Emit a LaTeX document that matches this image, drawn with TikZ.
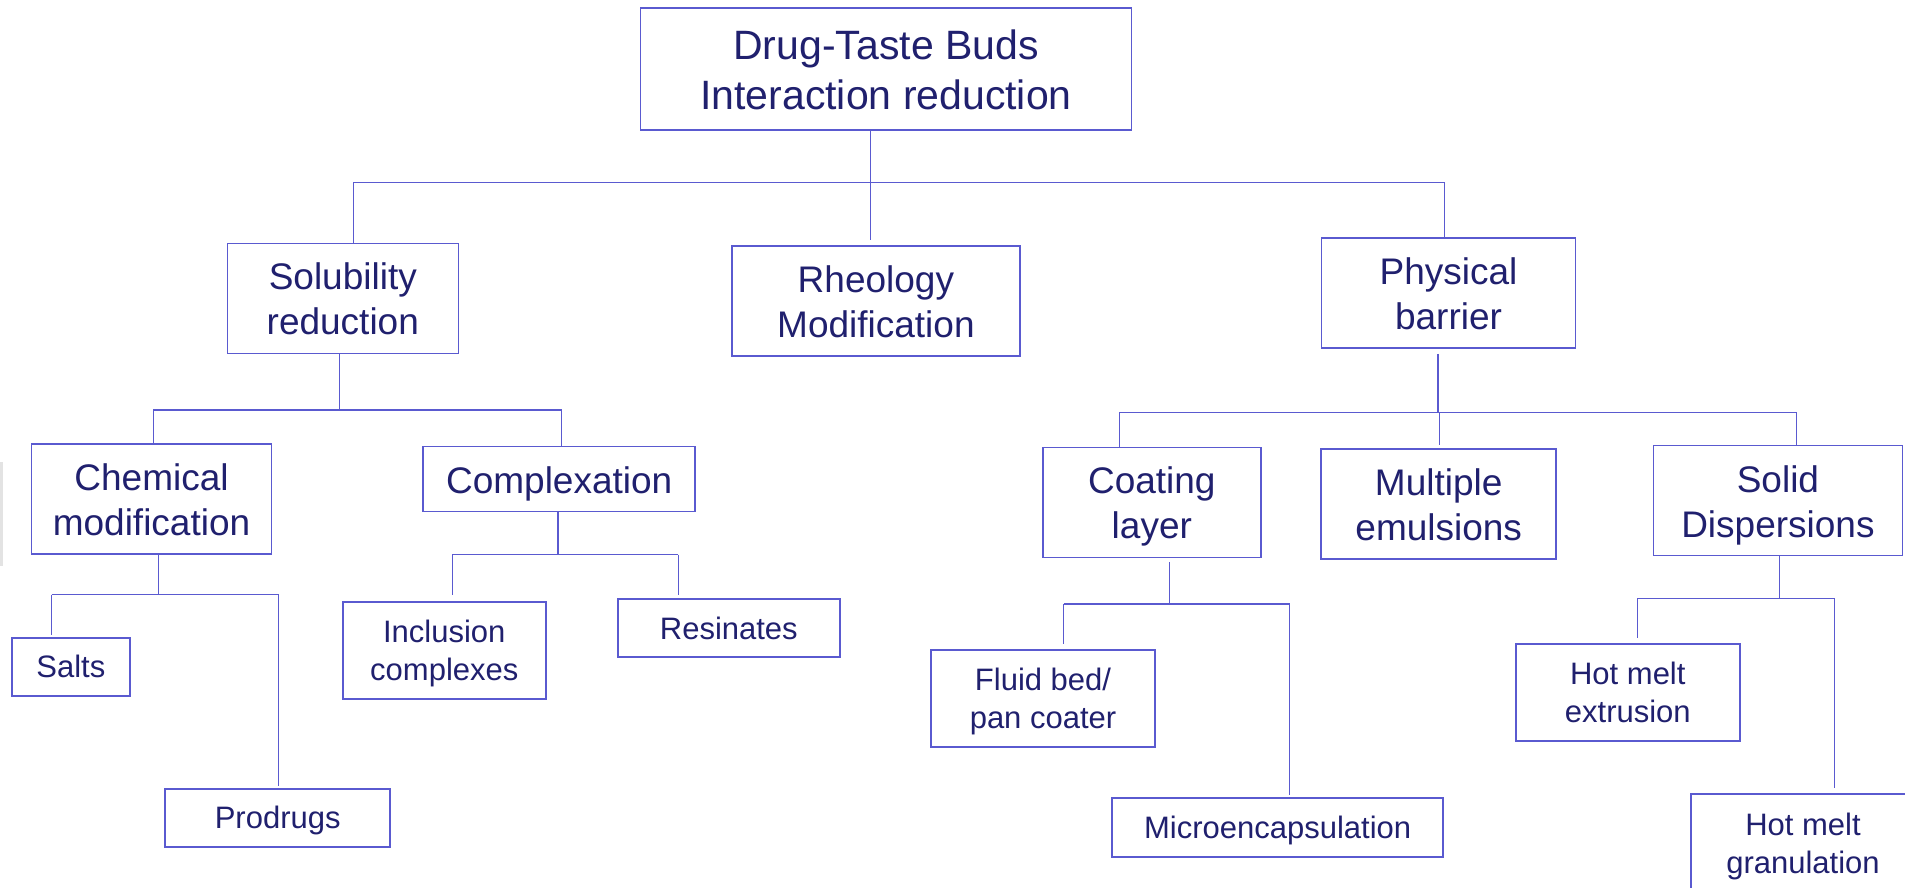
\documentclass[tikz,border=0pt]{standalone}
\usepackage{fontspec}
\setmainfont{Liberation Sans}
\definecolor{inkblue}{RGB}{32,32,110}
\definecolor{lineblue}{RGB}{90,90,208}
% line struts: fixed height and depth for every text line
\newcommand\strutB{\rule[-9pt]{0pt}{49pt}}
\newcommand\strutM{\rule[-8pt]{0pt}{44pt}}
\newcommand\strutS{\rule[-7pt]{0pt}{36pt}}
\begin{document}
\begin{tikzpicture}[x=1pt,y=-1pt,
  box/.style={draw=lineblue, line width=1.6pt, fill=white, text=inkblue,
    inner sep=0pt, align=center},
  big/.style={box, font=\fontsize{41}{50}\selectfont},
  mid/.style={box, font=\fontsize{37}{45}\selectfont},
  small/.style={box, font=\fontsize{31}{38}\selectfont},
  link/.style={draw=lineblue, line width=1.3pt}]
\useasboundingbox (0,0) rectangle (1905,888);
\begin{scope}
\clip (0,0) rectangle (1905,888);

% faint mark at the left edge
\fill[gray!22] (0,462) rectangle (3,566);

% boxes
\node[big, minimum width=491, minimum height=122] (root) at (886,69) {\strutB Drug-Taste Buds\\\strutB Interaction reduction};

\node[mid, minimum width=231, minimum height=110] (sol)  at (342.8,298.3) {\strutM Solubility\\\strutM reduction};
\node[mid, minimum width=288, minimum height=110] (rheo) at (875.9,301) {\strutM Rheology\\\strutM Modification};
\node[mid, minimum width=254, minimum height=110] (phys) at (1448.5,293) {\strutM Physical\\\strutM barrier};

\node[mid, minimum width=240, minimum height=110] (chem)  at (151.5,499) {\strutM Chemical\\\strutM modification};
\node[mid, minimum width=272, minimum height=65]  (comp)  at (559.2,479) {\strutM Complexation};
\node[mid, minimum width=218, minimum height=110] (coat)  at (1151.8,502.3) {\strutM Coating\\\strutM layer};
\node[mid, minimum width=235, minimum height=110] (mult)  at (1438.7,503.9) {\strutM Multiple\\\strutM emulsions};
\node[mid, minimum width=249, minimum height=110] (solid) at (1777.9,500.5) {\strutM Solid\\\strutM Dispersions};

\node[small, minimum width=118, minimum height=58] (salts) at (70.9,666.9) {\strutS Salts};
\node[small, minimum width=225, minimum height=58] (prod)  at (277.7,817.7) {\strutS Prodrugs};
\node[small, minimum width=203, minimum height=97] (incl)  at (444.3,650.5) {\strutS Inclusion\\\strutS complexes};
\node[small, minimum width=222, minimum height=58] (resin) at (728.8,628.2) {\strutS Resinates};
\node[small, minimum width=224, minimum height=97] (fluid) at (1043,698.7) {\strutS Fluid bed/\\\strutS pan coater};
\node[small, minimum width=331, minimum height=59] (micro) at (1277.7,827.3) {\strutS Microencapsulation};
\node[small, minimum width=224, minimum height=97] (hme)   at (1627.8,692.4) {\strutS Hot melt\\\strutS extrusion};
\node[small, minimum width=224, minimum height=98] (hmg)   at (1803,843) {\strutS Hot melt\\\strutS granulation};

% first level
\coordinate (t0) at (870.4,182.3);
\coordinate (t1) at (353.7,182.3);
\coordinate (t3) at (1444.2,182.3);
\draw[link] (root.south -| t0) -- (t0);
\draw[link] (t1) -- (t3);
\draw[link] (t1) -- (t1 |- sol.north);
\draw[link, shorten >=5] (t0) -- (t0 |- rheo.north);
\draw[link] (t3) -- (t3 |- phys.north);

% solubility reduction
\coordinate (s0) at (339.2,410);
\coordinate (s1) at (153.2,410);
\coordinate (s2) at (561.6,410);
\draw[link] (sol.south -| s0) -- (s0);
\draw[link] (s1) -- (s2);
\draw[link] (s1) -- (s1 |- chem.north);
\draw[link] (s2) -- (s2 |- comp.north);

% physical barrier
\coordinate (p0) at (1438.1,412.3);
\coordinate (p1) at (1119.6,412.3);
\coordinate (p2) at (1439.3,412.3);
\coordinate (p3) at (1796.7,412.3);
\draw[link, shorten <=5] (phys.south -| p0) -- (p0);
\draw[link] (p1) -- (p3);
\draw[link] (p1) -- (p1 |- coat.north);
\draw[link, shorten >=3] (p2) -- (p2 |- mult.north);
\draw[link] (p3) -- (p3 |- solid.north);

% chemical modification
\coordinate (c0) at (158.3,594.7);
\coordinate (c1) at (51.7,594.7);
\coordinate (c2) at (278.7,594.7);
\draw[link] (chem.south -| c0) -- (c0);
\draw[link] (c1) -- (c2);
\draw[link, shorten >=2] (c1) -- (c1 |- salts.north);
\draw[link, shorten >=2] (c2) -- (c2 |- prod.north);

% complexation
\coordinate (x0) at (558,554.7);
\coordinate (x1) at (452.2,554.7);
\coordinate (x2) at (678.3,554.7);
\draw[link] (comp.south -| x0) -- (x0);
\draw[link] (x1) -- (x2);
\draw[link, shorten >=6] (x1) -- (x1 |- incl.north);
\draw[link, shorten >=3] (x2) -- (x2 |- resin.north);

% coating layer
\coordinate (k0) at (1169.5,604);
\coordinate (k1) at (1063.7,604);
\coordinate (k2) at (1289.8,604);
\draw[link, shorten <=4] (coat.south -| k0) -- (k0);
\draw[link] (k1) -- (k2);
\draw[link, shorten >=5] (k1) -- (k1 |- fluid.north);
\draw[link, shorten >=2] (k2) -- (k2 |- micro.north);

% solid dispersions
\coordinate (d0) at (1779.7,598.3);
\coordinate (d1) at (1637.5,598.3);
\coordinate (d2) at (1834.4,598.3);
\draw[link] (solid.south -| d0) -- (d0);
\draw[link] (d1) -- (d2);
\draw[link, shorten >=5] (d1) -- (d1 |- hme.north);
\draw[link, shorten >=5] (d2) -- (d2 |- hmg.north);
\end{scope}
\end{tikzpicture}
\end{document}
